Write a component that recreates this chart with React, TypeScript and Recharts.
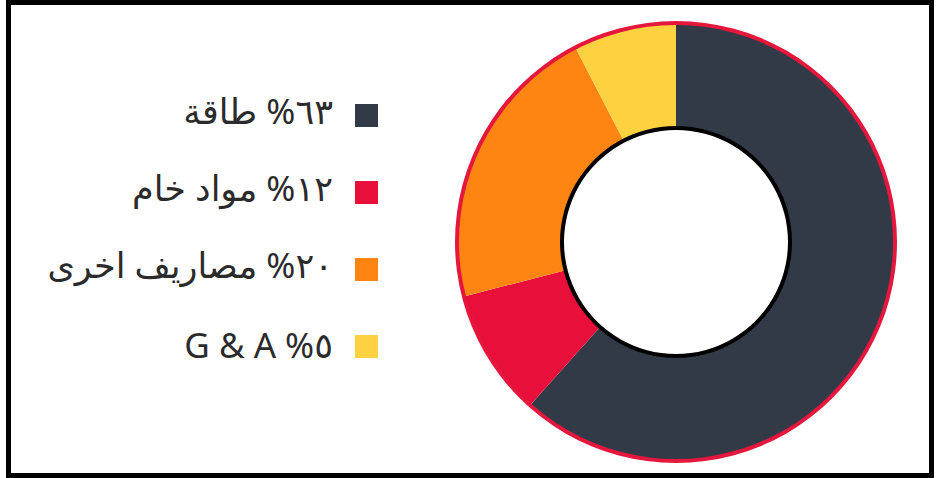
import { PieChart, Pie, Cell } from "recharts";

// slice sizes (labels keep the published percentages)
const NAMES = ["طاقة", "مواد خام", "مصاريف اخرى", "G & A"];
const LABELS = ["٦٣% طاقة", "١٢% مواد خام", "٢٠% مصاريف اخرى", "٥% G & A"];
const VALUES = [61.6, 9.4, 21.4, 7.6];
const COLORS = ["#323a48", "#e80f3b", "#ff8513", "#fdd140"];

const RING = [{ name: "ring", value: 1 }];

const data = NAMES.map((name, i) => ({ name, value: VALUES[i] }));

const CX = 676;
const CY = 242;
const ARABIC = /[\u0621-\u064A]/;

function LegendList() {
  return (
    <div
      style={{
        position: "absolute",
        left: 0,
        top: 77,
        width: 378,
        fontFamily: '"Noto Sans", "DejaVu Sans", sans-serif',
        color: "#2b2b2b",
      }}
    >
      {LABELS.map((label, i) => (
        <div
          key={label}
          style={{
            height: 77,
            display: "flex",
            justifyContent: "flex-end",
            alignItems: "center",
          }}
        >
          <span
            style={{
              direction: "rtl",
              whiteSpace: "nowrap",
              fontSize: 35,
              marginTop: ARABIC.test(label) ? -10 : -4,
            }}
          >
            {label}
          </span>
          <span
            style={{
              display: "inline-block",
              width: 23,
              height: 23,
              marginLeft: 22,
              background: COLORS[i],
              flexShrink: 0,
            }}
          />
        </div>
      ))}
    </div>
  );
}

export default function App() {
  return (
    <div style={{ position: "absolute", left: 0, top: 0, width: 943, height: 478, background: "#fff" }}>
      <div
        style={{
          position: "absolute",
          left: 6,
          top: 0,
          width: 928,
          height: 478,
          boxSizing: "border-box",
          border: "5px solid #000",
        }}
      />
      <PieChart
        width={943}
        height={478}
        margin={{ top: 0, right: 0, bottom: 0, left: 0 }}
        style={{ position: "absolute", left: 0, top: 0 }}
      >
        <Pie
          data={data}
          dataKey="value"
          cx={CX}
          cy={CY}
          innerRadius={114}
          outerRadius={219}
          startAngle={90}
          endAngle={-270}
          stroke="none"
          isAnimationActive={false}
        >
          {data.map((d, i) => (
            <Cell key={d.name} fill={COLORS[i]} />
          ))}
        </Pie>
        <Pie
          data={RING}
          dataKey="value"
          cx={CX}
          cy={CY}
          innerRadius={217}
          outerRadius={221}
          startAngle={90}
          endAngle={-270}
          fill="#e5173c"
          stroke="none"
          legendType="none"
          isAnimationActive={false}
        />
        <Pie
          data={RING}
          dataKey="value"
          cx={CX}
          cy={CY}
          innerRadius={112}
          outerRadius={116}
          startAngle={90}
          endAngle={-270}
          fill="#000"
          stroke="none"
          legendType="none"
          isAnimationActive={false}
        />
      </PieChart>
      <LegendList />
    </div>
  );
}
